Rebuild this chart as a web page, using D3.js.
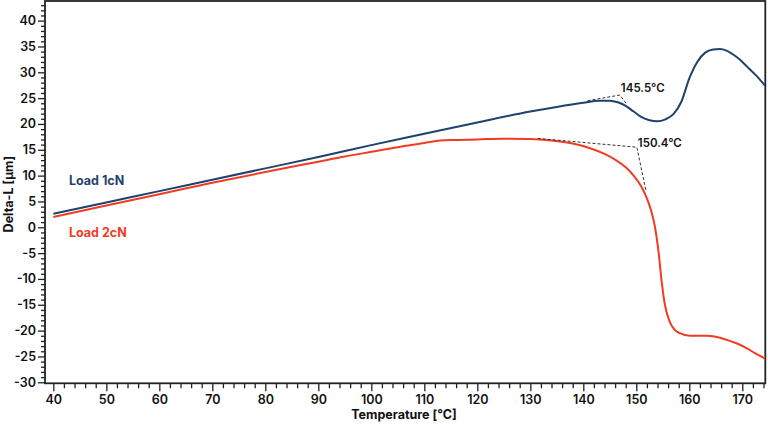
<!DOCTYPE html>
<html><head><meta charset="utf-8">
<script src="https://cdn.jsdelivr.net/npm/d3@7"></script>
<style>
html,body{margin:0;padding:0;background:#fff;}
svg{display:block;font-family:Inter,"Open Sans",sans-serif;}
</style></head>
<body><svg id="c" width="768" height="425"></svg>
<script>
// ---- data ----
const tempLoad1 = [40,50,60,70,80,90,100,110,120,130,135,140,143,145,146.5,148,149.5,151,152.5,154,155.5,157,158.5,160,161.5,163,164.5,165.8,167,169,171,172.5,174.3];
const valLoad1  = [2.6,4.8,7.0,9.2,11.4,13.6,15.9,18.1,20.3,22.4,23.3,24.1,24.5,24.5,24.2,23.5,22.4,21.3,20.7,20.5,20.9,21.9,24.3,28.8,32.0,33.8,34.4,34.5,34.2,32.9,31.0,29.5,27.4];
const tempLoad2 = [40,50,60,70,80,90,95,100,105,110,113,116,120,125,130,134,138,141,144,146,148,149.5,151,152,152.8,153.5,154.2,154.8,155.4,156.4,157.3,158.2,160.1,163.3,165,167.1,169,170.8,172.3,174.3];
const valLoad2  = [2.0,4.2,6.4,8.6,10.7,12.7,13.7,14.6,15.5,16.3,16.8,16.9,17.0,17.15,17.1,16.8,16.2,15.4,14.2,13.1,11.6,10.0,7.8,5.6,3.2,0.2,-4.8,-10.6,-15.0,-18.5,-19.9,-20.5,-21.0,-21.0,-21.2,-21.8,-22.5,-23.4,-24.3,-25.4];
const xTicks = [40,50,60,70,80,90,100,110,120,130,140,150,160,170];
const yTicks = [-30,-25,-20,-15,-10,-5,0,5,10,15,20,25,30,35,40];
const onset1 = {label:"145.5°C", pts:[[140.8,24.5],[146.9,25.6],[148.3,23.7]]};
const onset2 = {label:"150.4°C", pts:[[131.4,17.2],[150.1,15.5],[151.8,7.2]]};
const seriesNames = ["Load 1cN","Load 2cN"];
const seriesColors = ["#1f426c","#f03c24"];

// ---- chart ----
const svg = d3.select("#c");
const L=45, R=765.3, T=1, B=383.3;
const x = d3.scaleLinear().domain([38.43,174.34]).range([L,R]);
const y = d3.scaleLinear().domain([-30.2,43.8]).range([B,T]);

const ax = svg.append("g").attr("transform",`translate(0,${B})`)
  .call(d3.axisBottom(x).tickValues(d3.range(40,175,2)).tickSize(5).tickFormat(""));
ax.selectAll(".tick line").attr("stroke","#222").attr("stroke-width",1.3)
  .filter(d=>d%10===0).attr("y2",8);
ax.select(".domain").remove();
const axl = svg.append("g").attr("transform",`translate(0,${B})`)
  .call(d3.axisBottom(x).tickValues(xTicks).tickSize(0).tickPadding(12).tickFormat(d=>String(d)));
axl.select(".domain").remove();
axl.selectAll("text").attr("font-size",12.5).attr("font-weight",600).attr("fill","#111").attr("font-family","Inter");

const ay = svg.append("g").attr("transform",`translate(${L},0)`)
  .call(d3.axisLeft(y).tickValues(d3.range(-30,44,1)).tickSize(4).tickFormat(""));
ay.selectAll(".tick line").attr("stroke","#222").attr("stroke-width",1.3)
  .filter(d=>d%5===0).attr("x2",-7);
ay.select(".domain").remove();
const ayl = svg.append("g").attr("transform",`translate(${L},0)`)
  .call(d3.axisLeft(y).tickValues(yTicks).tickSize(0).tickPadding(9).tickFormat(d=>String(d)));
ayl.select(".domain").remove();
ayl.selectAll("text").attr("font-size",12.5).attr("font-weight",600).attr("fill","#111").attr("font-family","Inter");

svg.append("rect").attr("x",L).attr("y",T).attr("width",R-L).attr("height",B-T)
  .attr("fill","none").attr("stroke","#222").attr("stroke-width",1.8);

const line = d3.line().x(d=>x(d[0])).y(d=>y(d[1])).curve(d3.curveMonotoneX);
const s1 = tempLoad1.map((t,i)=>[t,valLoad1[i]]);
const s2 = tempLoad2.map((t,i)=>[t,valLoad2[i]]);
svg.append("path").attr("d",line(s1)).attr("fill","none").attr("stroke",seriesColors[0]).attr("stroke-width",2);
svg.append("path").attr("d",line(s2)).attr("fill","none").attr("stroke",seriesColors[1]).attr("stroke-width",2);

const dl = d3.line().x(d=>x(d[0])).y(d=>y(d[1]));
[onset1,onset2].forEach(o=>{
  svg.append("path").attr("d",dl(o.pts)).attr("fill","none").attr("stroke","#333")
    .attr("stroke-width",1).attr("stroke-dasharray","3,2");
});
svg.append("text").attr("x",x(146.9)+1).attr("y",y(25.6)-3).text(onset1.label)
  .attr("font-size",11.5).attr("font-weight",600).attr("fill","#111");
svg.append("text").attr("x",x(150.1)+1).attr("y",y(15.5)).text(onset2.label)
  .attr("font-size",11.5).attr("font-weight",600).attr("fill","#111");

svg.append("text").attr("x",69).attr("y",185).text(seriesNames[0])
  .attr("font-size",12.5).attr("font-weight",700).attr("fill",seriesColors[0]);
svg.append("text").attr("x",69).attr("y",237).text(seriesNames[1])
  .attr("font-size",12.5).attr("font-weight",700).attr("fill",seriesColors[1]);

svg.append("text").attr("transform",`translate(13,${(T+B)/2+2}) rotate(-90)`).attr("text-anchor","middle")
  .text("Delta-L [µm]").attr("font-size",12.5).attr("font-weight",700).attr("fill","#111");
svg.append("text").attr("x",404).attr("y",419).attr("text-anchor","middle")
  .text("Temperature [°C]").attr("font-size",12.5).attr("font-weight",700).attr("fill","#111");
</script></body></html>
